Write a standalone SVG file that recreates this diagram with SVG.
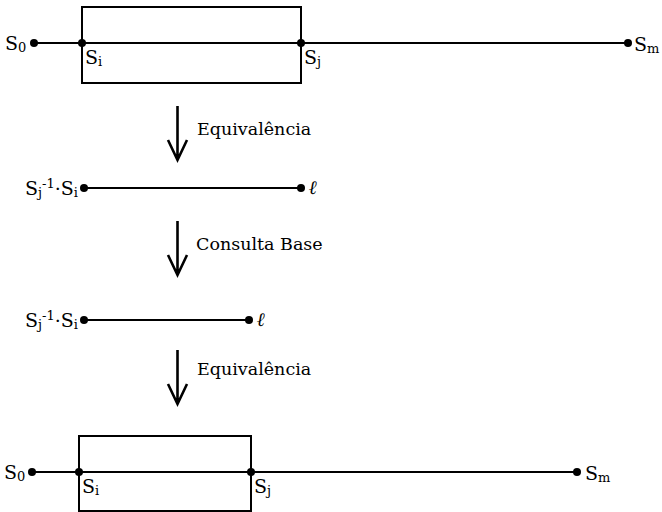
<svg xmlns="http://www.w3.org/2000/svg" width="662" height="512" viewBox="0 0 662 512">
  <style>
    .ln { stroke: #000; stroke-width: 2; fill: none; }
    .arr { stroke: #000; stroke-width: 2.6; fill: none; }
    .dot { fill: #000; }
    .t { font-family: "DejaVu Serif", "Liberation Serif", serif; fill: #000; }
    .lab { font-size: 19px; }
    .sub { font-size: 13px; }
    .cap { font-size: 17.5px; }
    .ell { font-family: "Liberation Serif", serif; font-style: italic; font-weight: bold; font-size: 19px; fill: #000; }
  </style>
  <rect width="662" height="512" fill="#fff"/>

  <!-- top sequence box -->
  <g id="top-box"><rect class="ln" x="82" y="7" width="219" height="76"/></g>
  <g id="connectors">
    <line class="ln" x1="34" y1="43" x2="628" y2="43"/>
    <line class="ln" x1="84" y1="188" x2="301" y2="188"/>
    <line class="ln" x1="84" y1="320" x2="249" y2="320"/>
    <line class="ln" x1="32" y1="472" x2="577" y2="472"/>
    <!-- step arrows -->
    <path class="arr" d="M177.5 106 V160 M168 140 L177.5 160 L187 140"/>
    <path class="arr" d="M177.5 221 V275 M168 255 L177.5 275 L187 255"/>
    <path class="arr" d="M177.5 350 V404 M168 384 L177.5 404 L187 384"/>
  </g>
  <g id="top-S0"><circle class="dot" cx="34" cy="43" r="4"/><text class="t lab" x="5" y="50">S<tspan class="sub" dy="2">0</tspan></text></g>
  <g id="top-Si"><circle class="dot" cx="82" cy="43" r="4"/><text class="t lab" x="85" y="64">S<tspan class="sub" dy="2">i</tspan></text></g>
  <g id="top-Sj"><circle class="dot" cx="301" cy="43" r="4"/><text class="t lab" x="304" y="64">S<tspan class="sub" dy="2">j</tspan></text></g>
  <g id="top-Sm"><circle class="dot" cx="628" cy="43" r="4"/><text class="t lab" x="634" y="51">S<tspan class="sub" dy="2">m</tspan></text></g>

  <g id="step1"><text class="t cap" x="197" y="135">Equivalência</text></g>

  <!-- reduced segment -->
  <g id="mid1-left"><circle class="dot" cx="84" cy="188" r="4"/><text class="t lab" x="78" y="195" text-anchor="end">S<tspan class="sub" dy="2">j</tspan><tspan class="sub" dy="-9">-1</tspan><tspan dy="7">·S</tspan><tspan class="sub" dy="2">i</tspan></text></g>
  <g id="mid1-right"><circle class="dot" cx="301" cy="188" r="4"/><text class="ell" x="309" y="194">ℓ</text></g>

  <g id="step2"><text class="t cap" x="196" y="250">Consulta Base</text></g>

  <g id="mid2-left"><circle class="dot" cx="84" cy="320" r="4"/><text class="t lab" x="78" y="327" text-anchor="end">S<tspan class="sub" dy="2">j</tspan><tspan class="sub" dy="-9">-1</tspan><tspan dy="7">·S</tspan><tspan class="sub" dy="2">i</tspan></text></g>
  <g id="mid2-right"><circle class="dot" cx="249" cy="320" r="4"/><text class="ell" x="257" y="326">ℓ</text></g>

  <g id="step3"><text class="t cap" x="197" y="375">Equivalência</text></g>

  <!-- bottom sequence box -->
  <g id="bottom-box"><rect class="ln" x="79" y="436" width="172" height="75"/></g>
  <g id="bot-S0"><circle class="dot" cx="32" cy="472" r="4"/><text class="t lab" x="4" y="479">S<tspan class="sub" dy="2">0</tspan></text></g>
  <g id="bot-Si"><circle class="dot" cx="79" cy="472" r="4"/><text class="t lab" x="82" y="493">S<tspan class="sub" dy="2">i</tspan></text></g>
  <g id="bot-Sj"><circle class="dot" cx="251" cy="472" r="4"/><text class="t lab" x="254" y="493">S<tspan class="sub" dy="2">j</tspan></text></g>
  <g id="bot-Sm"><circle class="dot" cx="577" cy="472" r="4"/><text class="t lab" x="585" y="480">S<tspan class="sub" dy="2">m</tspan></text></g>
</svg>
